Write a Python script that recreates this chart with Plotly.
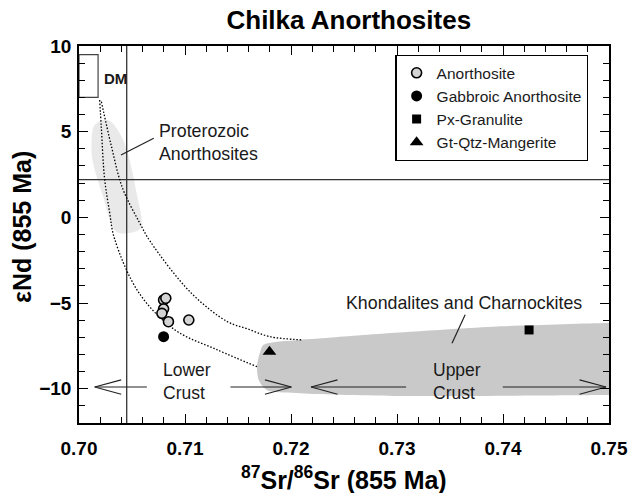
import plotly.graph_objects as go

# ---------------- data ----------------
anor_sr = [0.70798, 0.70819, 0.70798, 0.70782, 0.70844, 0.71036]
anor_nd = [-4.82, -4.72, -5.34, -5.60, -6.09, -5.99]
gabbro_sr = [0.70798]
gabbro_nd = [-6.96]
granulite_sr = [0.74246]
granulite_nd = [-6.57]
mangerite_sr = [0.71797]
mangerite_nd = [-7.84]

# mixing curves from DM
mix1_sr = [0.70195, 0.70211, 0.70241, 0.70288, 0.70334, 0.70566, 0.70906, 0.71308, 0.71679]
mix1_nd = [6.85, 5.20, 2.28, 0.33, -1.22, -4.41, -6.57, -7.74, -8.71]
mix2_sr = [0.70211, 0.70303, 0.70411, 0.70566, 0.70674, 0.71058, 0.71401, 0.71586, 0.71800, 0.72112]
mix2_nd = [6.75, 4.22, 1.70, -0.25, -1.42, -4.41, -6.09, -6.50, -6.96, -7.15]

# Proterozoic anorthosite field outline
prot_sr = [0.70269, 0.70408, 0.70547, 0.70582, 0.70473, 0.70350, 0.70223, 0.70130, 0.70118, 0.70148, 0.70269]
prot_nd = [5.68, 4.63, 1.31, -0.62, -0.91, -0.83, 1.31, 3.25, 4.22, 5.39, 5.68]

# Khondalites & Charnockites field outline
khon_sr = [0.71741, 0.72078, 0.72328, 0.72978, 0.73905, 0.7499, 0.7530, 0.7530, 0.7499,
           0.72978, 0.7205, 0.71772, 0.71695, 0.71679, 0.71707, 0.71741]
khon_nd = [-7.44, -7.15, -7.04, -6.74, -6.38, -6.16, -6.15, -10.36, -10.36,
           -10.42, -10.25, -10.07, -9.49, -8.73, -7.90, -7.44]

# reference values
bulk_earth_sr = 0.7045
chur_nd = 2.2
dm_sr = [0.700, 0.7018]
dm_nd = [7.0, 9.5]

# arrows: (tail, tip) along eNd = -9.9
arrow_nd = -9.9
arrow_tail = [0.7064, 0.71429, 0.73086, 0.73998]
arrow_tip = [0.70148, 0.72004, 0.72189, 0.74972]

x_ticks = [0.70, 0.71, 0.72, 0.73, 0.74, 0.75]
x_ticklabels = ["0.70", "0.71", "0.72", "0.73", "0.74", "0.75"]
y_ticks = [-10, -5, 0, 5, 10]

FONT = "Liberation Sans, Arial, sans-serif"
TXT = "#1a1a1a"

fig = go.Figure()

# fields
fig.add_trace(go.Scatter(x=prot_sr, y=prot_nd, mode="lines", fill="toself",
                         fillcolor="#e9e9e9", line=dict(color="rgba(0,0,0,0)", shape="spline", smoothing=1.0),
                         hoverinfo="skip", showlegend=False))
fig.add_trace(go.Scatter(x=khon_sr, y=khon_nd, mode="lines", fill="toself",
                         fillcolor="#c9c9c9", line=dict(color="rgba(0,0,0,0)", shape="spline", smoothing=0.8),
                         hoverinfo="skip", showlegend=False))

# reference lines
fig.add_trace(go.Scatter(x=[bulk_earth_sr, bulk_earth_sr], y=[-12, 10], mode="lines",
                         line=dict(color="#333333", width=1.3), hoverinfo="skip", showlegend=False))
fig.add_trace(go.Scatter(x=[0.70, 0.75], y=[chur_nd, chur_nd], mode="lines",
                         line=dict(color="#333333", width=1.3), hoverinfo="skip", showlegend=False))

# DM box
fig.add_trace(go.Scatter(x=[dm_sr[0], dm_sr[1], dm_sr[1], dm_sr[0], dm_sr[0]],
                         y=[dm_nd[0], dm_nd[0], dm_nd[1], dm_nd[1], dm_nd[0]], mode="lines",
                         line=dict(color="#444444", width=1.2), hoverinfo="skip", showlegend=False))

# mixing curves
for xs, ys in [(mix1_sr, mix1_nd), (mix2_sr, mix2_nd)]:
    fig.add_trace(go.Scatter(x=xs, y=ys, mode="lines",
                             line=dict(color="black", width=1.3, dash="1.5px,1.8px", shape="spline", smoothing=1.0),
                             hoverinfo="skip", showlegend=False))

# arrows with open chevrons
hx, hy = 0.0025, 0.42
ax, ay = [], []
for t, p in zip(arrow_tail, arrow_tip):
    s = 1 if t > p else -1
    ax += [t, p, None, p + s * hx, p, p + s * hx, None]
    ay += [arrow_nd, arrow_nd, None, arrow_nd + hy, arrow_nd, arrow_nd - hy, None]
fig.add_trace(go.Scatter(x=ax, y=ay, mode="lines", line=dict(color="#222222", width=1.2),
                         hoverinfo="skip", showlegend=False))

# leader lines
fig.add_trace(go.Scatter(x=[0.70705, 0.70396, None, 0.73643, 0.73519],
                         y=[4.62, 3.64, None, -5.69, -7.35], mode="lines",
                         line=dict(color="#222222", width=1.2), hoverinfo="skip", showlegend=False))

# samples
fig.add_trace(go.Scatter(x=anor_sr, y=anor_nd, mode="markers", name="Anorthosite",
                         marker=dict(symbol="circle", size=10, color="#d4d4d4",
                                     line=dict(color="black", width=1.6))))
fig.add_trace(go.Scatter(x=gabbro_sr, y=gabbro_nd, mode="markers", name="Gabbroic Anorthosite",
                         marker=dict(symbol="circle", size=11, color="black")))
fig.add_trace(go.Scatter(x=granulite_sr, y=granulite_nd, mode="markers", name="Px-Granulite",
                         marker=dict(symbol="square", size=9, color="black")))
fig.add_trace(go.Scatter(x=mangerite_sr, y=mangerite_nd, mode="markers", name="Gt-Qtz-Mangerite",
                         marker=dict(symbol="triangle-up", size=12, color="black")))

# text labels
ann = [
    dict(x=0.70213, y=8.13, text="<b>DM</b>", xanchor="left", yanchor="middle", font=dict(size=15)),
    dict(x=0.70733, y=4.37, text="Proterozoic<br>Anorthosites", xanchor="left", yanchor="middle",
         align="left", font=dict(size=17.8)),
    dict(x=0.73636, y=-5.0, text="Khondalites and Charnockites", xanchor="center", yanchor="middle",
         font=dict(size=17.8)),
    dict(x=0.7077, y=-9.6, text="Lower<br>Crust", xanchor="left", yanchor="middle", align="left",
         font=dict(size=17.5)),
    dict(x=0.73318, y=-9.55, text="Upper<br>Crust", xanchor="left", yanchor="middle", align="left",
         font=dict(size=17.5)),
]
annotations = []
for a in ann:
    a.update(xref="x", yref="y", showarrow=False)
    a["font"].update(family=FONT, color=TXT)
    annotations.append(a)

annotations.append(dict(xref="paper", yref="paper", x=0.5, y=0, yshift=-55, xanchor="center",
                        yanchor="middle", showarrow=False,
                        text="<b><sup>87</sup>Sr/<sup>86</sup>Sr (855 Ma)</b>",
                        font=dict(family=FONT, size=25, color="black")))
annotations.append(dict(xref="paper", yref="paper", x=0, xshift=-57, y=0.52, xanchor="center",
                        yanchor="middle", showarrow=False, textangle=-90,
                        text="<b>εNd (855 Ma)</b>",
                        font=dict(family=FONT, size=25, color="black")))

axis_common = dict(showgrid=False, zeroline=False, showline=True, linecolor="black", linewidth=1.5,
                   mirror="ticks", ticks="inside", tickcolor="black", tickwidth=1.3, ticklen=9,
                   tickfont=dict(family=FONT, size=19, color="black", weight="bold"))

fig.update_layout(
    width=640, height=493,
    margin=dict(l=79, r=22, t=46, b=70),
    paper_bgcolor="white", plot_bgcolor="white",
    title=dict(text="<b>Chilka Anorthosites</b>", x=0.545, xanchor="center", y=0.959, yanchor="middle",
               yref="container", font=dict(family=FONT, size=26, color="black")),
    xaxis=dict(range=[0.70, 0.75], tickvals=x_ticks, ticktext=x_ticklabels,
               minor=dict(dtick=0.002, tick0=0.70, ticks="inside", ticklen=6, tickcolor="black", tickwidth=1.1),
               ticklabelstandoff=7, **axis_common),
    yaxis=dict(range=[-12, 10], tickvals=y_ticks,
               minor=dict(dtick=1, tick0=0, ticks="inside", ticklen=6, tickcolor="black", tickwidth=1.1),
               ticklabelstandoff=2, **axis_common),
    legend=dict(x=0.597, y=0.976, xanchor="left", yanchor="top", bgcolor="white",
                bordercolor="black", borderwidth=1.2,
                font=dict(family=FONT, size=15.5, color=TXT), tracegroupgap=0, itemwidth=30),
    annotations=annotations,
    showlegend=True,
)

# remove the default page margin so the 640x493 figure fills the window exactly
fig.write_html("out.html", config={"displayModeBar": False},
               post_script="document.body.style.margin='0';document.body.style.overflow='hidden';")
